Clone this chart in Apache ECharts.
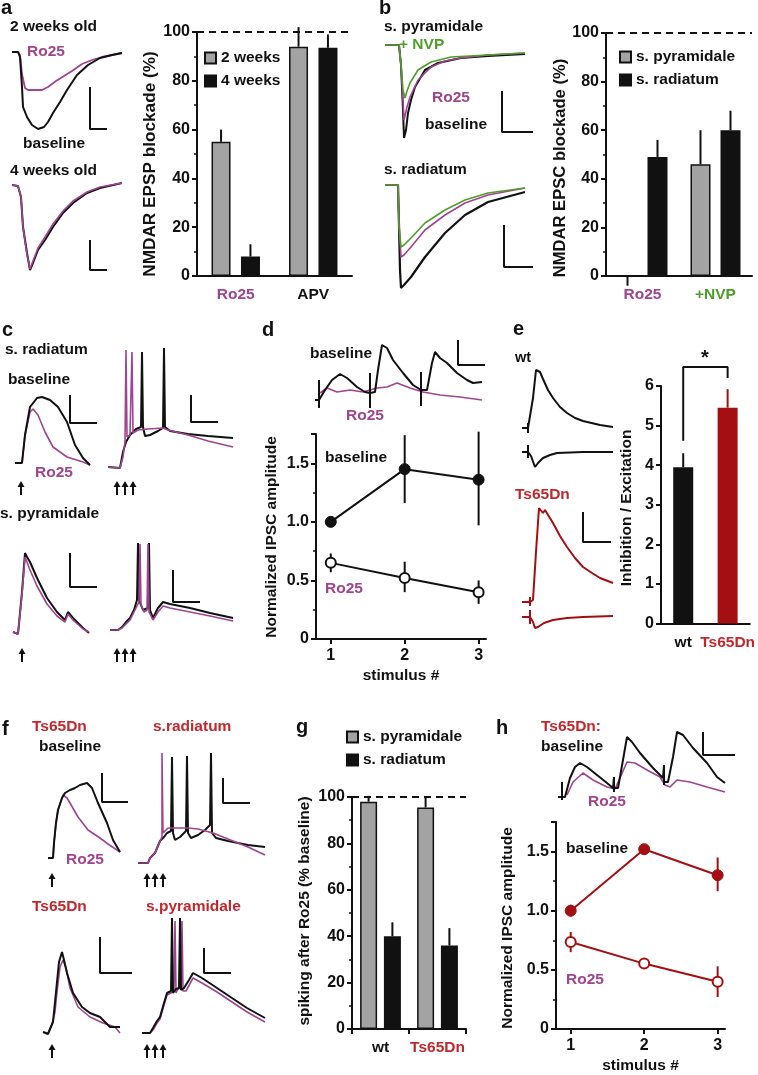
<!DOCTYPE html>
<html><head><meta charset="utf-8">
<script src="https://cdn.jsdelivr.net/npm/echarts@6.0.0/dist/echarts.min.js"></script>
<style>html,body{margin:0;padding:0;background:#fff}#c{width:758px;height:1075px}</style>
</head><body><div id="c"></div>
<script>
// ---------------- DATA ----------------
// a: NMDAR EPSP blockade (%)
const catsA = ['Ro25', 'APV'];
const a2wk = [55, 94];
const a2wkErr = [60, 102];
const a4wk = [8, 93.5];
const a4wkErr = [13, 99];
// b: NMDAR EPSC blockade (%)
const catsB = ['Ro25', '+NVP'];
const bPyr = [0, 46];
const bPyrErr = [-4, 60];
const bRad = [49, 60];
const bRadErr = [56, 68];
// d: normalized IPSC amplitude (wt)
const stimulus = [1, 2, 3];
const dBase = [1.0, 1.45, 1.36];
const dBaseLo = [0.97, 1.16, 0.97];
const dBaseHi = [1.03, 1.74, 1.77];
const dRo = [0.65, 0.52, 0.40];
const dRoLo = [0.57, 0.40, 0.30];
const dRoHi = [0.73, 0.66, 0.50];
// e: inhibition / excitation
const catsE = ['wt', 'Ts65Dn'];
const eVals = [3.95, 5.45];
const eErr = [4.3, 5.92];
const eBracket = [4.62, 6.48, 6.2];
// g: spiking after Ro25 (% baseline)
const catsG = ['wt', 'Ts65Dn'];
const gPyr = [98, 95.5];
const gPyrErr = [100.5, 100];
const gRad = [40, 36];
const gRadErr = [46, 43.5];
// h: normalized IPSC amplitude (Ts65Dn)
const hBase = [1.0, 1.52, 1.30];
const hBaseLo = [0.95, 1.49, 1.165];
const hBaseHi = [1.05, 1.55, 1.45];
const hRo = [0.735, 0.553, 0.40];
const hRoLo = [0.65, 0.52, 0.27];
const hRoHi = [0.82, 0.585, 0.53];
// tick label sets
const ticksPct = [0, 20, 40, 60, 80, 100];
const ticksIPSC = [0, 0.5, 1.0, 1.5];
const ticksRatio = [0, 1, 2, 3, 4, 5, 6];

// ---- example traces: [time, amplitude] ----
const a2Black = [[0,0],[6,0],[8,-5],[10,-35],[11,-55],[15,-65],[20,-73],[26,-77],[32,-75],[36,-70],[41,-61],[48,-50],[55,-38],[65,-23],[76,-13],[88,-6],[100,-3],[110,-1]];
const a2Ro = [[0,0],[6,0],[8,-3],[10,-22],[13,-36],[16,-38],[22,-38],[30,-38],[36,-35],[44,-29],[52,-24],[60,-19],[70,-12],[80,-8],[90,-5],[100,-3],[110,-1]];
const a2Scale = [[78,-35],[78,-77],[95,-77]];
const a4Black = [[0,0],[6,-1],[9,-12],[11,-42],[15,-68],[18,-85],[21,-78],[26,-65],[33,-55],[41,-42],[51,-28],[61,-18],[75,-8],[88,-3],[110,2]];
const a4Ro = [[0,0],[6,-1],[9,-12],[11,-42],[15,-70],[18,-84],[21,-76],[26,-63],[33,-52],[41,-39],[51,-26],[61,-16],[75,-7],[88,-2],[110,2]];
const a4Scale = [[78,-55],[78,-85],[95,-85]];

const bPyrBlack = [[0,0],[14,0],[16,-20],[18,-65],[19,-93],[21,-85],[23,-68],[26,-55],[30,-42],[40,-25],[53,-18],[76,-13],[103,-11],[140,-9]];
const bPyrRo = [[0,0],[14,0],[16,-20],[18,-55],[19,-75],[22,-62],[25,-52],[33,-35],[46,-22],[60,-16],[76,-13],[103,-10],[140,-8]];
const bPyrNvp = [[0,0],[14,0],[16,-20],[18,-45],[20,-53],[22,-46],[25,-38],[33,-25],[46,-17],[66,-12],[103,-10],[140,-8]];
const bPyrScale = [[117,-46],[117,-87],[148,-87]];
const bRadBlack = [[0,0],[13,0],[14,-40],[15,-85],[16,-103],[19,-100],[26,-92],[40,-72],[60,-48],[80,-30],[103,-17],[140,-7]];
const bRadRo = [[0,0],[13,0],[14,-40],[16,-72],[19,-70],[26,-62],[40,-45],[60,-30],[80,-18],[103,-10],[140,-3]];
const bRadNvp = [[0,0],[13,0],[14,-40],[16,-62],[19,-60],[26,-53],[40,-38],[60,-25],[80,-15],[103,-8],[140,-3]];
const bRadScale = [[119,-40],[119,-82],[148,-82]];

const cRadEpspBlack = [[0,0],[7,0],[10,28],[15,56],[22,65],[27,66],[35,63],[43,56],[52,41],[60,18],[68,5],[75,-2]];
const cRadEpspRo = [[0,0],[7,0],[10,28],[15,51],[18,54],[23,48],[30,31],[38,16],[52,6],[68,1],[75,-2]];
const cRadEpspScale = [[55,68],[55,40],[82,40]];
const cRadSpkBlack = [[0,0],[12,-1],[15,15],[18,25],[22,32],[28,38],[33,40],[34,115],[35,40],[37,31],[42,32],[50,36],[55,39],[56,119],[57,40],[62,36],[80,33],[100,31],[125,29]];
const cRadSpkRo = [[0,0],[12,-1],[15,10],[17,25],[18,117],[19,30],[22,32],[24,115],[25,34],[30,37],[40,38],[55,39],[60,37],[80,32],[100,26],[125,20]];
const cRadSpkScale = [[83,72],[83,45],[110,45]];
const cPyrEpspBlack = [[0,0],[5,-2],[7,-3],[9,40],[12,79],[14,75],[17,70],[24,54],[34,34],[44,20],[52,12],[55,20],[60,14],[70,4],[76,-1]];
const cPyrEpspRo = [[0,0],[5,-2],[7,-3],[9,38],[12,75],[14,70],[17,62],[24,46],[34,28],[44,16],[52,10],[55,18],[60,12],[70,3],[76,0]];
const cPyrEpspScale = [[57,79],[57,45],[84,45]];
const cPyrSpkBlack = [[0,0],[8,0],[12,3],[16,8],[20,12],[24,20],[27,30],[28,87],[29,30],[33,20],[38,22],[39,87],[40,20],[43,12],[48,22],[53,28],[60,26],[80,22],[100,17],[123,12]];
const cPyrSpkRo = [[0,0],[8,0],[12,2],[16,6],[20,10],[24,18],[29,28],[30,86],[31,25],[34,18],[37,20],[38,86],[39,18],[43,10],[48,18],[53,24],[60,22],[80,18],[100,14],[123,9]];
const cPyrSpkScale = [[63,60],[63,28],[90,28]];

const dTraceBlack = [[0,0],[4,0],[4,20],[4,-8],[4,0],[10,10],[17,20],[25,26],[32,22],[42,13],[50,8],[55,7],[55,27],[55,-8],[55,7],[60,8],[63,30],[67,55],[72,52],[78,40],[88,27],[98,15],[106,10],[106,28],[106,-6],[106,10],[112,10],[117,37],[120,48],[125,42],[132,37],[142,27],[152,20],[158,17],[167,18]];
const dTraceRo = [[5,7],[12,12],[22,8],[35,10],[48,8],[62,12],[72,13],[82,17],[95,12],[108,8],[125,5],[145,3],[167,0]];
const dTraceScale = [[143,60],[143,35],[170,35]];

const eWtUp = [[0,0],[6,0],[6,5],[6,-5],[6,0],[8,1],[11,30],[14,58],[16,60],[18,56],[21,49],[26,38],[31,30],[38,21],[45,15],[53,10],[61,7],[78,3],[91,1]];
const eWtDown = [[0,-24],[6,-24],[6,-17],[6,-30],[6,-24],[9,-28],[13,-39],[16,-35],[21,-30],[28,-27],[35,-25],[61,-24],[91,-24]];
const eTsUp = [[0,0],[8,0],[8,5],[8,-4],[8,0],[11,2],[14,50],[17,94],[19,92],[21,89],[23,92],[25,90],[31,79],[38,66],[45,55],[53,44],[61,35],[70,29],[78,24],[91,19]];
const eTsDown = [[0,-15],[8,-15],[8,-8],[8,-22],[8,-15],[11,-20],[13,-26],[16,-25],[22,-21],[31,-18],[45,-16],[61,-15],[91,-14]];
const eTsScale = [[61,90],[61,60],[89,60]];

const fRadEpspBlack = [[0,0],[5,0],[6,15],[8,35],[10,48],[14,60],[17,65],[22,68],[27,70],[32,73],[39,75],[44,70],[50,55],[59,35],[65,18],[72,6]];
const fRadEpspRo = [[0,0],[5,0],[6,15],[8,35],[10,48],[15,63],[19,60],[22,55],[30,41],[40,28],[52,20],[60,14],[72,6]];
const fRadEpspScale = [[54,85],[54,56],[80,56]];
const fRadSpkBlack = [[0,0],[10,0],[12,5],[17,10],[22,22],[26,26],[29,30],[33,32],[34,106],[35,30],[37,23],[42,26],[48,32],[49,107],[50,30],[53,25],[60,28],[67,33],[72,38],[73,110],[74,30],[78,25],[90,22],[110,18],[127,16]];
const fRadSpkRo = [[0,0],[10,0],[12,5],[17,10],[22,22],[24,26],[24,110],[25,30],[30,35],[40,35],[50,35],[60,34],[75,30],[90,24],[110,16],[127,8]];
const fRadSpkScale = [[85,85],[85,60],[112,60]];
const fPyrEpspBlack = [[0,0],[5,-2],[7,-3],[10,10],[13,40],[16,70],[19,80],[21,72],[24,59],[30,39],[39,25],[47,19],[57,15],[67,5],[77,5]];
const fPyrEpspRo = [[0,0],[5,-1],[7,-2],[9,8],[12,20],[14,40],[17,65],[20,72],[23,64],[27,44],[35,25],[47,15],[60,9],[72,5],[77,-1]];
const fPyrEpspScale = [[57,95],[57,59],[89,59]];
const fPyrSpkBlack = [[0,0],[8,0],[11,5],[15,12],[18,16],[22,30],[25,40],[29,42],[30,115],[31,40],[34,44],[37,45],[38,115],[39,43],[42,45],[47,53],[51,60],[60,55],[75,45],[90,35],[105,25],[123,15]];
const fPyrSpkRo = [[0,0],[8,0],[11,3],[15,10],[18,14],[22,28],[25,38],[29,40],[32,42],[33,112],[34,40],[36,44],[39,45],[40,112],[41,42],[44,42],[51,55],[60,50],[75,41],[90,31],[105,21],[123,11]];
const fPyrSpkScale = [[62,85],[62,60],[89,60]];

const hTraceBlack = [[0,0],[4,0],[4,15],[4,-3],[4,0],[7,0],[12,19],[17,30],[22,34],[29,30],[39,22],[49,14],[55,9],[56,9],[56,20],[56,5],[56,9],[60,9],[65,37],[69,60],[74,55],[82,44],[95,29],[105,19],[106,19],[106,32],[106,12],[106,15],[110,15],[115,40],[119,65],[125,62],[135,49],[149,34],[159,20],[167,14]];
const hTraceRo = [[9,2],[15,15],[25,24],[35,17],[49,10],[57,8],[62,19],[69,35],[77,34],[89,27],[102,20],[107,12],[112,10],[119,17],[132,15],[149,10],[167,5]];
const hTraceScale = [[145,65],[145,42],[177,42]];

// ---------------- STYLE ----------------
const FONT = '"Liberation Sans", Arial, Helvetica, sans-serif';
const FS = 15.5;
const BLACK = '#111111';
const PURPLE = '#a0448f';
const GREEN = '#4f9d2a';
const RED = '#c1272d';
const DRED = '#a30f12';
const GRAY = '#a3a3a3';

const grids = [], xAxes = [], yAxes = [], series = [], graphics = [], legends = [];

function addGrid(left, top, width, height) {
  grids.push({left, top, width, height, containLabel: false});
  return grids.length - 1;
}
function lineS(ai, data, color, width) {
  return {type: 'line', xAxisIndex: ai, yAxisIndex: ai, data, symbol: 'none', showSymbol: false,
    lineStyle: {color, width: width || 1.8}, clip: false, silent: true, animation: false};
}
// trace grid: origin (x0,y0) of recording in page px, box of grid
function addTrace(x0, y0, left, top, width, height, lines, scale) {
  const gi = addGrid(left, top, width, height);
  xAxes.push({type: 'value', gridIndex: gi, min: left - x0, max: left + width - x0, show: false});
  yAxes.push({type: 'value', gridIndex: gi, min: y0 - (top + height), max: y0 - top, show: false});
  const ai = xAxes.length - 1;
  lines.forEach(l => series.push(lineS(ai, l[0], l[1], l[2])));
  if (scale) series.push(lineS(ai, scale, BLACK, 2));
}
function T(text, x, y, o) {
  o = o || {};
  const col = o.color || BLACK;
  graphics.push({type: 'text', x, y, rotation: o.rot || 0, z: 100, silent: true,
    style: {text, fill: col, fontSize: o.size || FS, fontFamily: FONT, fontWeight: 'bold',
      textAlign: o.align || 'left', textVerticalAlign: 'middle'}});
}
function arrow(x, yc) {
  graphics.push({type: 'line', z: 100, silent: true, shape: {x1: x, y1: yc - 2, x2: x, y2: yc + 7}, style: {stroke: BLACK, lineWidth: 2}});
  graphics.push({type: 'polygon', z: 100, silent: true, shape: {points: [[x - 3.5, yc - 1], [x + 3.5, yc - 1], [x, yc - 7]]}, style: {fill: BLACK}});
}
function arrows3(xc, yc) { arrow(xc - 8, yc); arrow(xc, yc); arrow(xc + 8, yc); }

const labelFont = {fontSize: 16, color: BLACK, fontFamily: FONT, fontWeight: 'bold'};
function yAxisVal(gi, min, max, interval, minor, fmt) {
  return {type: 'value', gridIndex: gi, min, max, interval,
    axisLine: {show: true, lineStyle: {color: BLACK, width: 2}},
    axisTick: {show: true, length: 5, lineStyle: {color: BLACK, width: 2}},
    minorTick: {show: minor, splitNumber: 2, length: 3, lineStyle: {color: BLACK, width: 1.5}},
    splitLine: {show: false},
    axisLabel: Object.assign({margin: 7, showMaxLabel: (max % interval === 0), formatter: fmt || (v => String(v))}, labelFont)};
}
function xAxisCat(gi, cats, colors, tick) {
  const rich = {};
  cats.forEach((c, i) => rich['c' + i] = {color: colors[i], fontSize: FS, fontFamily: FONT, fontWeight: 'bold'});
  return {type: 'category', gridIndex: gi, data: cats,
    axisLine: {show: true, lineStyle: {color: BLACK, width: 2}},
    axisTick: {show: !!tick, length: 5, lineStyle: {color: BLACK, width: 2}},
    axisLabel: {margin: 11, interval: 0, hideOverlap: false, formatter: (v, i) => '{c' + i + '|' + v + '}', rich}};
}
function errS(ai, pts, offset, colors) {
  return {type: 'custom', xAxisIndex: ai, yAxisIndex: ai, clip: false, silent: true, z: 4, animation: false,
    data: pts,
    renderItem: (p, api) => {
      const a = api.coord([api.value(0), api.value(1)]);
      const b = api.coord([api.value(0), api.value(2)]);
      const c = Array.isArray(colors) ? colors[p.dataIndex] : colors;
      return {type: 'line', shape: {x1: a[0] + offset, y1: a[1], x2: b[0] + offset, y2: b[1]},
        style: {stroke: c, lineWidth: 2}};
    }};
}
const dashed100 = {silent: true, symbol: 'none', label: {show: false},
  lineStyle: {type: [7, 5], color: BLACK, width: 2}, data: [{yAxis: 100}]};
function barS(ai, name, data, color, bw, gap, extra) {
  return Object.assign({type: 'bar', name, xAxisIndex: ai, yAxisIndex: ai, data, barWidth: bw, barGap: gap,
    itemStyle: {color, borderColor: BLACK, borderWidth: 1.5}, animation: false, silent: true}, extra || {});
}
function legendAt(names, left, top) {
  legends.push({data: names, orient: 'vertical', left, top, itemWidth: 11, itemHeight: 11, itemGap: 7,
    icon: 'rect', padding: 0, selectedMode: false,
    textStyle: {fontSize: FS, color: BLACK, fontFamily: FONT, fontWeight: 'bold'}});
}

// ---------------- PANEL a ----------------
T('a', 1, 8, {size: 20});
T('2 weeks old', 10, 27);
T('Ro25', 27, 52, {color: PURPLE});
T('baseline', 23, 144);
T('4 weeks old', 10, 171);
addTrace(12, 52, 10, 45, 115, 90, [[a2Ro, PURPLE, 1.8], [a2Black, BLACK, 2]], a2Scale);
addTrace(12, 185, 10, 180, 115, 95, [[a4Black, BLACK, 2], [a4Ro, PURPLE, 1.6]], a4Scale);
(function () {
  const gi = addGrid(197, 32, 155, 244);
  xAxes.push(xAxisCat(gi, catsA, [PURPLE, BLACK], false));
  yAxes.push(yAxisVal(gi, 0, 100, 20, true));
  const ai = xAxes.length - 1;
  series.push(barS(ai, '2 weeks', a2wk, GRAY, 19, '55%', {markLine: dashed100}));
  series.push(barS(ai, '4 weeks', a4wk, BLACK, 19, '55%'));
  series.push(errS(ai, a2wk.map((v, i) => [i, v, a2wkErr[i]]), -14.7, BLACK));
  series.push(errS(ai, a4wk.map((v, i) => [i, v, a4wkErr[i]]), 14.7, BLACK));
  legendAt(['2 weeks', '4 weeks'], 204, 50);
})();
T('NMDAR EPSP blockade (%)', 150, 164, {rot: Math.PI / 2, align: 'center', size: 17.2});

// ---------------- PANEL b ----------------
T('b', 379, 8, {size: 20});
T('s. pyramidale', 384, 27);
T('+ NVP', 399, 45, {color: GREEN});
T('Ro25', 432, 98, {color: PURPLE});
T('baseline', 425, 125);
T('s. radiatum', 384, 170);
addTrace(385, 45, 383, 40, 152, 100, [[bPyrBlack, BLACK, 2], [bPyrRo, PURPLE, 1.6], [bPyrNvp, GREEN, 1.6]], bPyrScale);
addTrace(385, 185, 383, 180, 152, 112, [[bRadBlack, BLACK, 2.2], [bRadRo, PURPLE, 1.6], [bRadNvp, GREEN, 1.6]], bRadScale);
(function () {
  const gi = addGrid(606, 33, 146, 243);
  xAxes.push(xAxisCat(gi, catsB, [PURPLE, GREEN], false));
  yAxes.push(yAxisVal(gi, 0, 100, 20, true));
  const ai = xAxes.length - 1;
  series.push(barS(ai, 's. pyramidale', bPyr, GRAY, 20, '50%', {markLine: dashed100}));
  series.push(barS(ai, 's. radiatum', bRad, BLACK, 20, '50%'));
  series.push(errS(ai, bPyr.map((v, i) => [i, v, bPyrErr[i]]), -15, BLACK));
  series.push(errS(ai, bRad.map((v, i) => [i, v, bRadErr[i]]), 15, BLACK));
  legendAt(['s. pyramidale', 's. radiatum'], 619, 49);
})();
T('NMDAR EPSC blockade (%)', 560, 168, {rot: Math.PI / 2, align: 'center', size: 16.6});

// ---------------- PANEL c ----------------
T('c', 2, 330, {size: 20});
T('s. radiatum', 5, 350);
T('baseline', 8, 380);
T('Ro25', 35, 473, {color: PURPLE});
T('s. pyramidale', 0, 514);
addTrace(15, 463, 13, 390, 85, 80, [[cRadEpspRo, PURPLE, 1.6], [cRadEpspBlack, BLACK, 2]], cRadEpspScale);
addTrace(108, 467, 106, 345, 132, 127, [[cRadSpkBlack, BLACK, 2], [cRadSpkRo, PURPLE, 1.6]], cRadSpkScale);
addTrace(13, 632, 11, 545, 85, 95, [[cPyrEpspBlack, BLACK, 2], [cPyrEpspRo, PURPLE, 1.6]], cPyrEpspScale);
addTrace(110, 630, 108, 538, 130, 97, [[cPyrSpkBlack, BLACK, 2], [cPyrSpkRo, PURPLE, 1.6]], cPyrSpkScale);
arrow(21, 488); arrows3(125, 488);
arrow(22, 655); arrows3(125, 655);

// ---------------- PANEL d ----------------
T('d', 262, 330, {size: 20});
T('baseline', 310, 354);
T('Ro25', 346, 416, {color: PURPLE});
addTrace(315, 400, 313, 335, 175, 78, [[dTraceRo, PURPLE, 1.6], [dTraceBlack, BLACK, 2]], dTraceScale);

function ipscChart(left, top, width, height, base, bLo, bHi, ro, rLo, rHi, col, fillCol) {
  const gi = addGrid(left, top, width, height);
  xAxes.push({type: 'value', gridIndex: gi, min: 0.8, max: 3.1,
    name: 'stimulus #', nameLocation: 'middle', nameGap: 29,
    nameTextStyle: {fontSize: FS, color: BLACK, fontFamily: FONT, fontWeight: 'bold'},
    axisLine: {show: true, lineStyle: {color: BLACK, width: 2}},
    axisTick: {show: true, length: 5, customValues: stimulus, lineStyle: {color: BLACK, width: 2}},
    axisLabel: Object.assign({customValues: stimulus, margin: 9}, labelFont),
    splitLine: {show: false}});
  yAxes.push(yAxisVal(gi, 0, 1.75, 0.5, true, v => v === 0 ? '0' : v.toFixed(1)));
  const ai = xAxes.length - 1;
  series.push(errS(ai, stimulus.map((s, i) => [s, bLo[i], bHi[i]]), 0, col));
  series.push(errS(ai, stimulus.map((s, i) => [s, rLo[i], rHi[i]]), 0, col));
  series.push({type: 'line', name: 'baseline', xAxisIndex: ai, yAxisIndex: ai, data: stimulus.map((s, i) => [s, base[i]]),
    symbol: 'circle', symbolSize: 11, itemStyle: {color: fillCol, borderColor: fillCol, borderWidth: 1},
    lineStyle: {color: col, width: 2}, z: 5, clip: false, animation: false, silent: true});
  series.push({type: 'line', name: 'Ro25', xAxisIndex: ai, yAxisIndex: ai, data: stimulus.map((s, i) => [s, ro[i]]),
    symbol: 'circle', symbolSize: 10, itemStyle: {color: '#ffffff', borderColor: col, borderWidth: 2},
    lineStyle: {color: col, width: 2}, z: 5, clip: false, animation: false, silent: true});
}
ipscChart(316, 434, 170, 205, dBase, dBaseLo, dBaseHi, dRo, dRoLo, dRoHi, BLACK, BLACK);
T('baseline', 325, 458);
T('Ro25', 325, 589, {color: PURPLE});
T('Normalized IPSC amplitude', 272, 537, {rot: Math.PI / 2, align: 'center'});

// ---------------- PANEL e ----------------
T('e', 513, 329, {size: 20});
T('wt', 515, 358, {size: 14.5});
T('Ts65Dn', 515, 495, {color: RED});
addTrace(522, 428, 519, 362, 96, 110, [[eWtUp, BLACK, 2], [eWtDown, BLACK, 2]], null);
addTrace(522, 602, 519, 500, 96, 132, [[eTsUp, DRED, 2], [eTsDown, DRED, 2]], eTsScale);
(function () {
  const gi = addGrid(661, 386, 89, 237.5);
  xAxes.push(xAxisCat(gi, catsE, [BLACK, RED], false));
  yAxes.push(yAxisVal(gi, 0, 6, 1, false));
  const ai = xAxes.length - 1;
  series.push({type: 'bar', name: 'I/E', xAxisIndex: ai, yAxisIndex: ai, data: eVals, barWidth: 20,
    itemStyle: {color: p => p.dataIndex === 0 ? BLACK : DRED}, animation: false, silent: true});
  series.push(errS(ai, eVals.map((v, i) => [i, v, eErr[i]]), 0, [BLACK, DRED]));
  series.push({type: 'line', xAxisIndex: ai, yAxisIndex: ai, symbol: 'none', clip: false, silent: true, animation: false,
    data: [[0, eBracket[0]], [0, eBracket[1]], [1, eBracket[1]], [1, eBracket[2]]],
    lineStyle: {color: BLACK, width: 2}});
})();
T('*', 705, 358, {align: 'center', size: 20});
T('Inhibition / Excitation', 627, 508, {rot: Math.PI / 2, align: 'center'});

// ---------------- PANEL f ----------------
T('f', 2, 729, {size: 20});
T('Ts65Dn', 32, 727, {color: RED});
T('baseline', 39, 747);
T('s.radiatum', 153, 727, {color: RED});
T('Ro25', 66, 860, {color: PURPLE});
T('Ts65Dn', 32, 907, {color: RED});
T('s.pyramidale', 146, 907, {color: RED});
addTrace(48, 858, 45, 768, 85, 95, [[fRadEpspRo, PURPLE, 1.6], [fRadEpspBlack, BLACK, 2]], fRadEpspScale);
addTrace(138, 863, 135, 748, 135, 120, [[fRadSpkBlack, BLACK, 2], [fRadSpkRo, PURPLE, 1.6]], fRadSpkScale);
addTrace(43, 1032, 40, 930, 95, 110, [[fPyrEpspRo, PURPLE, 1.6], [fPyrEpspBlack, BLACK, 2]], fPyrEpspScale);
addTrace(142, 1033, 138, 913, 132, 125, [[fPyrSpkRo, PURPLE, 1.6], [fPyrSpkBlack, BLACK, 2]], fPyrSpkScale);
arrow(52, 880); arrows3(155, 880);
arrow(52, 1051); arrows3(155, 1051);

// ---------------- PANEL g ----------------
T('g', 296, 727, {size: 20});
(function () {
  const gi = addGrid(352, 797, 114, 232);
  xAxes.push(xAxisCat(gi, catsG, [BLACK, RED], true));
  yAxes.push(yAxisVal(gi, 0, 100, 20, true));
  const ai = xAxes.length - 1;
  series.push(barS(ai, 's. pyramidale', gPyr, GRAY, 17, '40%', {markLine: dashed100}));
  series.push(barS(ai, 's. radiatum', gRad, BLACK, 17, '40%'));
  series.push(errS(ai, gPyr.map((v, i) => [i, v, gPyrErr[i]]), -11.9, BLACK));
  series.push(errS(ai, gRad.map((v, i) => [i, v, gRadErr[i]]), 11.9, BLACK));
  legendAt(['s. pyramidale', 's. radiatum'], 346, 729);
})();
T('spiking after Ro25 (% baseline)', 305, 911, {rot: Math.PI / 2, align: 'center'});

// ---------------- PANEL h ----------------
T('h', 496, 728, {size: 20});
T('Ts65Dn:', 541, 727, {color: RED});
T('baseline', 541, 747);
T('Ro25', 588, 802, {color: PURPLE});
addTrace(558, 797, 555, 725, 182, 80, [[hTraceRo, PURPLE, 1.6], [hTraceBlack, BLACK, 2]], hTraceScale);
ipscChart(556, 822, 169, 208, hBase, hBaseLo, hBaseHi, hRo, hRoLo, hRoHi, DRED, DRED);
T('baseline', 566, 849);
T('Ro25', 566, 980, {color: PURPLE});
T('Normalized IPSC amplitude', 508, 928, {rot: Math.PI / 2, align: 'center'});

// ---------------- RENDER ----------------
const chart = echarts.init(document.getElementById('c'), null, {renderer: 'canvas'});
chart.setOption({
  animation: false,
  backgroundColor: '#ffffff',
  textStyle: {fontFamily: FONT},
  grid: grids, xAxis: xAxes, yAxis: yAxes, series, legend: legends, graphic: graphics
});
</script></body></html>
